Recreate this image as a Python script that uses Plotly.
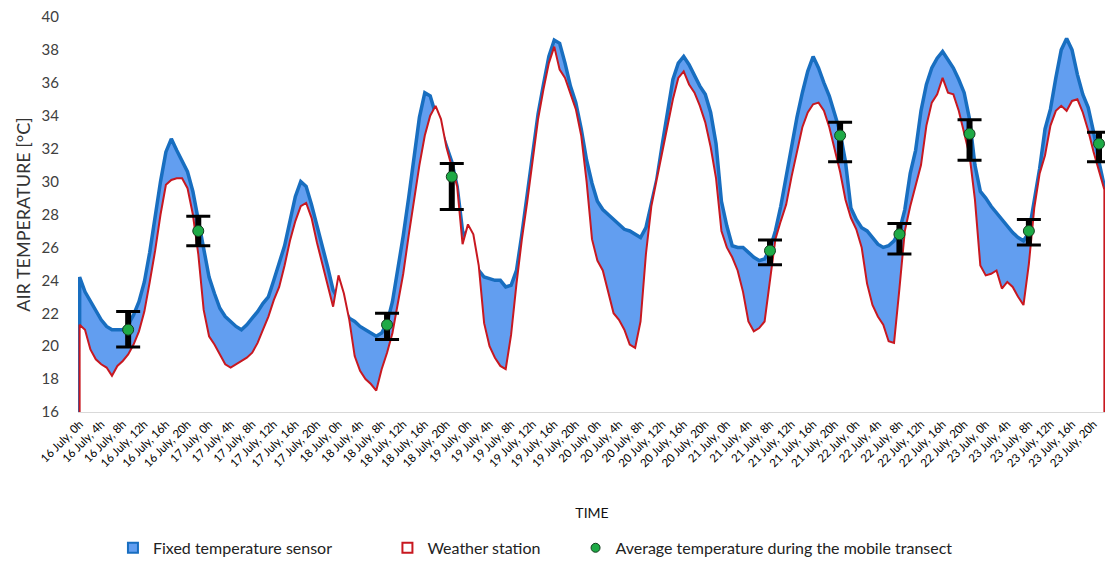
import plotly.graph_objects as go

# ---- data -------------------------------------------------------------
# hourly readings, hour 0 = 16 July 0h, last = 23 July 22h
sensor = [
    24.2, 23.3, 22.7, 22.1, 21.6, 21.2, 21.0, 21.0, 21.0, 21.3, 21.9, 22.7,
    23.9, 25.7, 27.9, 30.0, 31.8, 32.6, 31.9, 31.3, 30.6, 29.4, 27.7, 25.8,
    24.2, 23.2, 22.3, 21.8, 21.5, 21.2, 21.0, 21.3, 21.7, 22.1, 22.6, 23.0,
    24.0, 25.0, 26.1, 27.6, 29.1, 30.0, 29.7, 28.6, 27.4, 26.0, 24.8, 23.4,
    22.8, 22.2, 21.7, 21.5, 21.2, 21.0, 20.8, 20.6, 20.8, 21.4, 22.7, 24.6,
    26.7, 29.0, 31.3, 33.9, 35.4, 35.2, 34.1, 33.1, 32.2, 31.2, 29.7, 27.0,
    26.3, 25.3, 24.6, 24.2, 24.1, 24.0, 24.0, 23.6, 23.7, 24.6, 26.8, 29.2,
    31.6, 34.1, 35.9, 37.6, 38.6, 38.4, 37.2, 35.8, 34.8, 33.2, 31.3, 29.9,
    28.8, 28.3, 28.0, 27.7, 27.4, 27.1, 27.0, 26.8, 26.6, 27.2, 28.6, 30.1,
    32.2, 34.3, 36.2, 37.2, 37.6, 37.1, 36.4, 35.8, 35.3, 34.2, 32.3, 28.8,
    27.3, 26.1, 26.0, 26.0, 25.7, 25.4, 25.2, 25.3, 25.9, 27.0, 28.5, 30.4,
    32.2, 33.9, 35.4, 36.7, 37.6, 36.9, 36.0, 35.2, 34.1, 33.0, 31.2, 28.4,
    27.7, 27.2, 27.0, 26.6, 26.2, 26.0, 26.1, 26.4, 27.0, 28.3, 30.5, 31.9,
    34.3, 35.9, 36.9, 37.5, 37.9, 37.4, 36.9, 36.2, 35.4, 33.8, 31.0, 29.4,
    29.0, 28.5, 28.1, 27.7, 27.3, 26.9, 26.6, 26.4, 26.9, 28.8, 30.8, 33.2,
    34.4, 36.3, 38.0, 38.7, 38.0, 36.5, 35.3, 34.5, 33.0, 31.2, 29.7,
]

station = [
    21.3, 21.0, 19.8, 19.2, 18.9, 18.7, 18.2, 18.8, 19.1, 19.5, 20.1, 20.9,
    22.1, 23.9, 25.8, 28.0, 29.8, 30.1, 30.2, 30.2, 29.6, 28.0, 25.6, 22.2,
    20.6, 20.1, 19.5, 18.9, 18.7, 18.9, 19.1, 19.3, 19.6, 20.2, 21.0, 21.8,
    22.8, 23.6, 24.9, 26.4, 27.6, 28.5, 28.7, 27.8, 26.3, 25.0, 23.6, 22.4,
    24.3, 23.2, 21.6, 19.4, 18.5, 18.0, 17.7, 17.3, 18.6, 19.6, 20.8, 22.5,
    24.4, 26.7, 28.9, 31.0, 32.8, 34.0, 34.6, 33.8, 32.1, 30.9, 29.7, 26.2,
    27.4, 26.8, 24.9, 21.4, 20.0, 19.3, 18.8, 18.6, 20.7, 23.8, 26.5, 28.8,
    31.4, 33.8, 35.6, 37.2, 38.2, 36.8, 36.3, 35.4, 34.4, 32.8, 30.0, 26.5,
    25.2, 24.6, 23.2, 22.0, 21.6, 21.0, 20.1, 19.9, 21.5, 25.6, 28.5, 30.1,
    31.8, 33.4, 35.0, 36.3, 36.7, 35.9, 35.4, 34.6, 33.6, 32.1, 30.2, 27.0,
    26.0, 25.4, 24.6, 23.3, 21.5, 20.9, 21.1, 21.5, 23.9, 26.5, 27.6, 28.6,
    30.3, 31.9, 33.3, 34.2, 34.7, 34.8, 34.3, 33.3, 32.0, 30.6, 28.9, 27.8,
    27.1, 26.0, 23.8, 22.5, 21.8, 21.3, 20.3, 20.2, 23.5, 27.0, 28.5, 29.7,
    31.0, 33.4, 34.8, 35.3, 36.3, 35.4, 35.3, 34.3, 33.0, 31.6, 28.9, 24.9,
    24.3, 24.4, 24.6, 23.5, 23.9, 23.6, 23.0, 22.5, 25.0, 28.4, 30.5, 31.6,
    33.4, 34.3, 34.6, 34.3, 34.9, 35.0, 34.2, 33.1, 31.8, 30.6, 29.5,
]

hours = list(range(len(sensor)))

transect_hours = [9, 22, 57, 69, 128, 141, 152, 165, 176, 189]
transect_mean = [21.0, 27.0, 21.3, 30.3, 25.8, 32.8, 26.8, 32.9, 27.0, 32.3]
transect_plus = [1.1, 0.9, 0.7, 0.8, 0.65, 0.8, 0.65, 0.85, 0.7, 0.7]
transect_minus = [1.05, 0.9, 0.9, 2.0, 0.85, 1.6, 1.2, 1.6, 0.85, 1.1]

tick_days = [16, 17, 18, 19, 20, 21, 22, 23]
tick_hours = [0, 4, 8, 12, 16, 20]

# ---- styles -----------------------------------------------------------
BLUE_FILL = "rgb(98,158,240)"
BLUE_LINE = "rgb(24,110,192)"
RED = "rgb(200,24,32)"
GREEN = "rgb(30,170,70)"
Y_MIN, Y_MAX = 16, 40

tickvals, ticktext = [], []
for i, d in enumerate(tick_days):
    for h in tick_hours:
        tickvals.append(i * 24 + h)
        ticktext.append(f"{d} July, {h}h")


def closed(xs, ys):
    return [xs[0]] + xs + [xs[-1]], [Y_MIN] + ys + [Y_MIN]


fig = go.Figure()

bx, by = closed(hours, sensor)
fig.add_trace(go.Scatter(
    x=bx, y=by, mode="lines", fill="toself", fillcolor=BLUE_FILL,
    line=dict(color=BLUE_LINE, width=3.5),
    name="Fixed temperature sensor", showlegend=False, hoverinfo="skip"))

rx, ry = closed(hours, station)
fig.add_trace(go.Scatter(
    x=rx, y=ry, mode="lines", fill="toself", fillcolor="white",
    line=dict(color=RED, width=2),
    name="Weather station", showlegend=False, hoverinfo="skip"))

# thick error-bar stems
fig.add_trace(go.Scatter(
    x=transect_hours, y=transect_mean, mode="markers",
    marker=dict(size=1, color="rgba(0,0,0,0)"),
    error_y=dict(type="data", symmetric=False, array=transect_plus,
                 arrayminus=transect_minus, color="black",
                 thickness=6, width=0),
    showlegend=False, hoverinfo="skip", cliponaxis=False))

fig.add_trace(go.Scatter(
    x=transect_hours, y=transect_mean, mode="markers",
    marker=dict(size=11, color=GREEN, line=dict(color="rgb(20,60,30)", width=1)),
    error_y=dict(type="data", symmetric=False, array=transect_plus,
                 arrayminus=transect_minus, color="black",
                 thickness=3, width=12),
    showlegend=False, cliponaxis=False))

# legend swatches (three separately placed legends)
fig.add_trace(go.Scatter(
    x=[None], y=[None], mode="markers", name="Fixed temperature sensor",
    marker=dict(symbol="square", size=10, color=BLUE_FILL,
                line=dict(color=BLUE_LINE, width=2)), legend="legend"))
fig.add_trace(go.Scatter(
    x=[None], y=[None], mode="markers", name="Weather station",
    marker=dict(symbol="square", size=10, color="white",
                line=dict(color=RED, width=2)), legend="legend2"))
fig.add_trace(go.Scatter(
    x=[None], y=[None], mode="markers",
    name="Average temperature during the mobile transect",
    marker=dict(symbol="circle", size=9, color=GREEN,
                line=dict(color="rgb(20,60,30)", width=1)), legend="legend3"))

leg_common = dict(orientation="h", xanchor="left", y=-0.344, yanchor="middle",
                  font=dict(size=16, color="#222"), itemwidth=30,
                  bgcolor="rgba(0,0,0,0)")

fig.update_layout(
    width=1105, height=565,
    margin=dict(l=70, r=7, t=9, b=161, autoexpand=False),
    paper_bgcolor="white", plot_bgcolor="white",
    font=dict(family="Lato, Open Sans, sans-serif", color="#333"),
    showlegend=True,
    legend=dict(x=0.034, **leg_common),
    legend2=dict(x=0.301, **leg_common),
    legend3=dict(x=0.484, **leg_common),
    xaxis=dict(range=[-0.3, 190.3], tickmode="array",
               tickvals=tickvals, ticktext=ticktext, tickangle=-45,
               tickfont=dict(size=11.5, color="#000"),
               showgrid=False, zeroline=False, automargin=False,
               showline=True, linecolor="#d9d9d9", linewidth=1,
               ticklabeloverflow="allow",
               ticks="", title=dict(text="TIME", font=dict(size=14, color="#111"),
                                    standoff=39)),
    yaxis=dict(range=[Y_MIN, Y_MAX], tickvals=list(range(16, 41, 2)),
               tickfont=dict(size=15, color="#404040"),
               showgrid=False, zeroline=False, showline=False,
               ticklabelstandoff=18, automargin=False,
               ticklabeloverflow="allow",
               title=dict(text="AIR TEMPERATURE [°C]",
                          font=dict(size=18, color="#333"), standoff=6)),
)

fig.write_html("out.html")
